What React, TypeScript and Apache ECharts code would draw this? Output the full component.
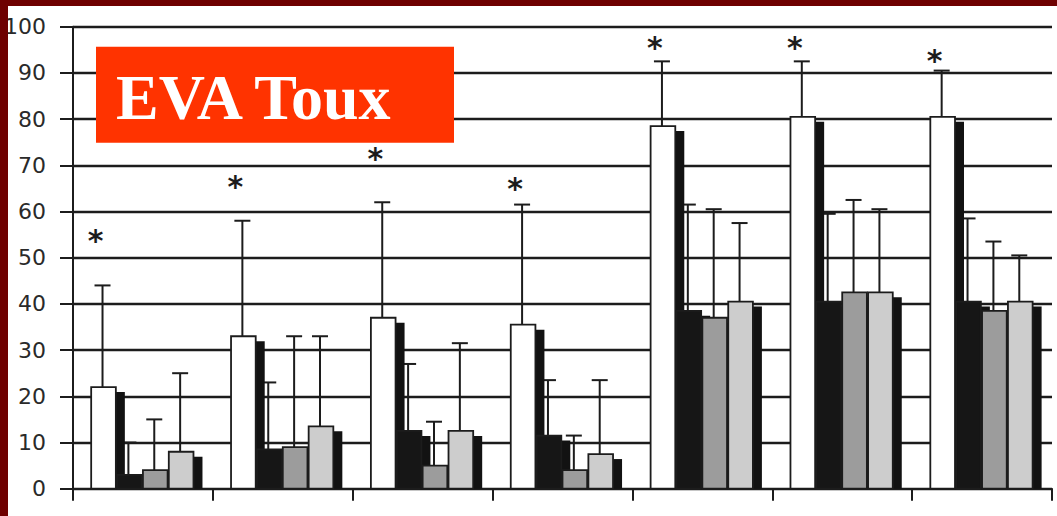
import React, { useEffect, useRef } from 'react';
import * as echarts from 'echarts';

// Seven assessment points, four groups each (no axis captions are printed)
const categories = ['P1', 'P2', 'P3', 'P4', 'P5', 'P6', 'P7'];
const seriesNames = ['Groupe 1', 'Groupe 2', 'Groupe 3', 'Groupe 4'];

// Mean cough VAS scores and their standard deviations (upper whisker only)
const whiteMean = [22, 33, 37, 35.5, 78.5, 80.5, 80.5];
const whiteSd = [22, 25, 25, 26, 14, 12, 10];
const blackMean = [3, 8.5, 12.5, 11.5, 38.5, 40.5, 40.5];
const blackSd = [7, 14.5, 14.5, 12, 23, 19, 18];
const grayMean = [4, 9, 5, 4, 37, 42.5, 38.5];
const graySd = [11, 24, 9.5, 7.5, 23.5, 20, 15];
const lightMean = [8, 13.5, 12.5, 7.5, 40.5, 42.5, 40.5];
const lightSd = [17, 19.5, 19, 16, 17, 18, 10];

// Height at which the significance star is printed above each first bar
const starLevel = [54.3, 66, 72.2, 65.7, 96.2, 96.2, 93.3];

const means = [whiteMean, blackMean, grayMean, lightMean];
const sds = [whiteSd, blackSd, graySd, lightSd];
const fills = ['#ffffff', '#161616', '#9c9c9c', '#cdcdcd'];

const INK = '#1c1c1c';
const SHADOW_DX = 9;
const SHADOW_DY = 5;

function slotGeometry(api: any, cat: number, k: number) {
  const band = api.size([1, 0])[0];
  const slot = band * 0.185;
  const center = api.coord([cat, 0])[0];
  const x = center - 2 * slot + k * slot;
  return { x, w: slot - 1.2 };
}

export default function App() {
  const ref = useRef<HTMLDivElement>(null);

  useEffect(() => {
    if (!ref.current) return;
    const chart = echarts.init(ref.current, undefined, { renderer: 'svg' });

    const errorData: number[][] = [];
    means.forEach((arr, k) =>
      arr.forEach((m, i) => errorData.push([i, k, m, m + sds[k][i]]))
    );

    const errorSeries = {
      type: 'custom',
      name: 'sd',
      data: errorData,
      z: 2,
      renderItem: (_p: any, api: any) => {
        const cat = api.value(0);
        const k = api.value(1);
        const { x, w } = slotGeometry(api, cat, k);
        const cx = x + w / 2 - 1;
        const yBase = api.coord([cat, api.value(2)])[1];
        const yTop = api.coord([cat, api.value(3)])[1];
        const style = { stroke: INK, lineWidth: 2 };
        return {
          type: 'group',
          children: [
            { type: 'line', shape: { x1: cx, y1: yBase, x2: cx, y2: yTop }, style },
            { type: 'line', shape: { x1: cx - 8, y1: yTop, x2: cx + 8, y2: yTop }, style },
          ],
        };
      },
    };

    const barSeries = means.map((arr, k) => ({
      type: 'custom',
      name: seriesNames[k],
      data: arr.map((m, i) => [i, m]),
      z: 3,
      renderItem: (_p: any, api: any) => {
        const cat = api.value(0);
        const { x, w } = slotGeometry(api, cat, k);
        const y = api.coord([cat, api.value(1)])[1];
        const y0 = api.coord([cat, 0])[1];
        const sTop = Math.min(y + SHADOW_DY, y0);
        return {
          type: 'group',
          children: [
            {
              type: 'rect',
              shape: { x: x + SHADOW_DX, y: sTop, width: w, height: y0 - sTop },
              style: { fill: '#121212' },
            },
            {
              type: 'rect',
              shape: { x, y, width: w, height: y0 - y },
              style: { fill: fills[k], stroke: INK, lineWidth: 1.8 },
            },
          ],
        };
      },
    }));

    const starSeries = {
      type: 'custom',
      name: 'stars',
      data: starLevel.map((v, i) => [i, v]),
      z: 4,
      renderItem: (_p: any, api: any) => {
        const cat = api.value(0);
        const { x, w } = slotGeometry(api, cat, 0);
        const y = api.coord([cat, api.value(1)])[1];
        return {
          type: 'text',
          x: x + w / 2 - 8,
          y: y + 3,
          style: {
            text: '*',
            fill: INK,
            fontSize: 30,
            fontWeight: 'bold',
            fontFamily: 'DejaVu Sans',
            align: 'center',
            verticalAlign: 'middle',
          },
        };
      },
    };

    chart.setOption({
      animation: false,
      backgroundColor: '#ffffff',
      grid: {
        left: 65,
        right: 5,
        top: 20.7,
        bottom: 27.3,
        containLabel: false,
        outerBoundsMode: 'none',
      },
      xAxis: {
        type: 'category',
        data: categories,
        boundaryGap: true,
        axisLine: { lineStyle: { color: INK, width: 2 } },
        axisTick: { show: true, interval: 0, length: 12, lineStyle: { color: INK, width: 2 } },
        axisLabel: { show: false },
        splitLine: { show: false },
      },
      yAxis: {
        type: 'value',
        min: 0,
        max: 100,
        interval: 10,
        axisLine: { show: true, lineStyle: { color: INK, width: 2 } },
        axisTick: { show: true, length: 13, lineStyle: { color: INK, width: 2 } },
        axisLabel: {
          fontSize: 22,
          color: '#2a2a2a',
          fontFamily: 'DejaVu Sans',
          margin: 27,
        },
        splitLine: { show: true, lineStyle: { color: INK, width: 2.4 } },
      },
      graphic: [
        {
          type: 'rect',
          z: 10,
          shape: { x: 88, y: 40.7, width: 358, height: 96 },
          style: { fill: '#ff3300' },
        },
        {
          type: 'text',
          z: 11,
          x: 108,
          y: 91,
          style: {
            text: 'EVA Toux',
            fill: '#ffffff',
            fontSize: 64,
            fontWeight: 'bold',
            fontFamily: 'Liberation Serif',
            align: 'left',
            verticalAlign: 'middle',
          },
        },
      ],
      series: [errorSeries, ...barSeries, starSeries],
    });

    return () => chart.dispose();
  }, []);

  return (
    <div
      style={{
        position: 'fixed',
        left: 0,
        top: 0,
        width: 1057,
        height: 516,
        background: '#6e0000',
      }}
    >
      <div
        ref={ref}
        style={{ position: 'absolute', left: 8, top: 6, width: 1049, height: 510 }}
      />
    </div>
  );
}
